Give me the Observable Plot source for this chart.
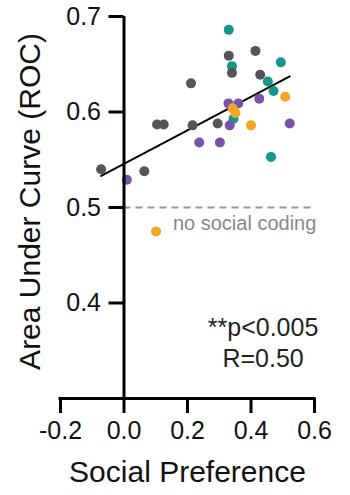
<!DOCTYPE html>
<html>
<head>
<meta charset="utf-8">
<script src="https://cdn.jsdelivr.net/npm/d3@7"></script>
<script src="https://cdn.jsdelivr.net/npm/@observablehq/plot@0.6"></script>
<style>
  html, body { margin: 0; padding: 0; background: #fff; }
</style>
</head>
<body>
<div id="chart"></div>
<script>
// Data: [social preference, AUC]
const grayPts = [
  [-0.072, 0.540], [0.064, 0.538], [0.104, 0.587], [0.125, 0.587],
  [0.211, 0.630], [0.216, 0.586], [0.295, 0.588], [0.330, 0.659],
  [0.414, 0.664], [0.429, 0.639]
];
const tealPts = [
  [0.330, 0.686], [0.340, 0.648], [0.494, 0.652], [0.453, 0.632],
  [0.471, 0.622], [0.345, 0.593], [0.463, 0.553]
];
const grayTop = [[0.340, 0.641]];
const purplePts = [
  [0.009, 0.529], [0.237, 0.568], [0.302, 0.568], [0.333, 0.586],
  [0.329, 0.609], [0.360, 0.609], [0.426, 0.614], [0.522, 0.588]
];
const orangePts = [
  [0.342, 0.604], [0.351, 0.599], [0.400, 0.586], [0.508, 0.616], [0.101, 0.475]
];
const xTicks = [-0.2, 0.0, 0.2, 0.4, 0.6];
const yTicks = [0.4, 0.5, 0.6, 0.7];
const chanceLevel = 0.5;
const stats = ["**p<0.005", "R=0.50"];

const colors = {gray: "#555555", teal: "#17958f", purple: "#7752a8", orange: "#f4a521"};

const toRows = (arr, g) => arr.map(([x, y]) => ({x, y, g}));
const rows = [
  ...toRows(tealPts, "teal"),
  ...toRows(grayPts, "gray"),
  ...toRows(grayTop, "gray"),
  ...toRows(purplePts, "purple"),
  ...toRows(orangePts, "orange")
];

const W = 350, H = 495, ML = 60, MR = 36, MT = 16, MB = 97;
const xDomain = [-0.2, 0.6], yDomain = [0.3, 0.7];
const yAxisDx = (0 - xDomain[0]) / (xDomain[1] - xDomain[0]) * (W - ML - MR);

const chart = Plot.plot({
  width: W, height: H,
  marginLeft: ML, marginRight: MR, marginTop: MT, marginBottom: MB,
  style: {fontFamily: "'Liberation Sans', Arial, sans-serif", background: "#fff", overflow: "visible"},
  x: {domain: xDomain},
  y: {domain: yDomain},
  marks: [
    Plot.ruleY([chanceLevel], {x1: 0, x2: 0.6, stroke: "#999", strokeWidth: 2, strokeDasharray: "7,5"}),
    Plot.text(["no social coding"], {x: 0.154, y: 0.483, text: d => d, textAnchor: "start", fontSize: 20, fill: "#888"}),
    Plot.linearRegressionY(rows, {x: "x", y: "y", ci: 0, stroke: "black", strokeWidth: 2}),
    Plot.dot(rows, {x: "x", y: "y", r: 5, fill: d => colors[d.g], stroke: "none"}),
    Plot.ruleX([0], {y1: 0.3, y2: 0.7, stroke: "black", strokeWidth: 3}),
    Plot.ruleY([0.3], {x1: -0.2, x2: 0.6, stroke: "black", strokeWidth: 3, strokeLinecap: "square"}),
    Plot.axisY({ticks: yTicks, tickFormat: d => d.toFixed(1), tickSize: 15, tickPadding: 8, strokeWidth: 3,
      fontSize: 25, fill: "#111", label: null, dx: yAxisDx}),
    Plot.axisX({ticks: xTicks, tickFormat: d => d.toFixed(1), tickSize: 15, tickPadding: 8, strokeWidth: 3,
      fontSize: 25, fill: "#111", label: null}),
    Plot.text(["Area Under Curve (ROC)"], {frameAnchor: "left", textAnchor: "middle", text: d => d, rotate: -90,
      dx: -30, dy: -6, fontSize: 30, fill: "#111"}),
    Plot.text(["Social Preference"], {frameAnchor: "bottom", text: d => d, dy: 83, fontSize: 30, fill: "#111"}),
    Plot.text([stats[0]], {x: 0.438, y: 0.374, text: d => d, fontSize: 25, fill: "#222"}),
    Plot.text([stats[1]], {x: 0.438, y: 0.341, text: d => d, fontSize: 25, fill: "#222"})
  ]
});
document.getElementById("chart").appendChild(chart);
</script>
</body>
</html>
